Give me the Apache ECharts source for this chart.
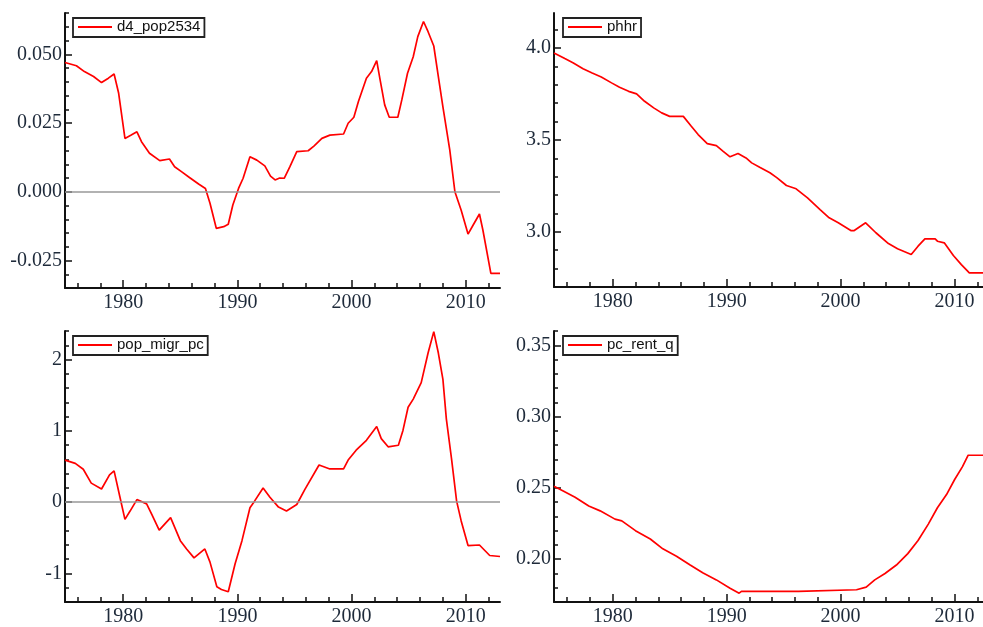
<!DOCTYPE html>
<html>
<head>
<meta charset="utf-8">
<script src="https://cdn.jsdelivr.net/npm/echarts@6/dist/echarts.min.js"></script>
<style>
html,body{margin:0;padding:0;background:#fff;}
#chart{width:983px;height:627px;}
</style>
</head>
<body>
<div id="chart"></div>
<script>
// ---- data ----
const seriesNames = ['d4_pop2534', 'phhr', 'pop_migr_pc', 'pc_rent_q'];

const d4Years = [1974.9,1975.9,1976.6,1977.4,1978.1,1978.7,1979.2,1979.6,1980.15,1980.7,1981.2,1981.6,1982.3,1983.2,1984.05,1984.5,1985.1,1985.8,1986.6,1987.2,1987.6,1988.15,1988.8,1989.2,1989.6,1990.1,1990.5,1991.1,1991.7,1992.4,1992.9,1993.3,1993.7,1994.1,1994.6,1995.2,1996.2,1996.7,1997.4,1998.1,1999.3,1999.7,2000.2,2000.6,2001.3,2001.75,2002.2,2002.5,2002.9,2003.3,2004.05,2004.4,2004.9,2005.4,2005.8,2006.3,2006.7,2007.2,2007.6,2008.0,2008.6,2009.05,2009.6,2010.2,2010.65,2011.2,2011.5,2012.2,2013.0];
const d4Values = [0.0470,0.0458,0.0437,0.0419,0.0397,0.0413,0.0428,0.0358,0.0194,0.0206,0.0218,0.0182,0.0140,0.0113,0.0119,0.0091,0.0073,0.0052,0.0028,0.0012,-0.0042,-0.0133,-0.0127,-0.0118,-0.0048,0.0012,0.0049,0.0127,0.0115,0.0094,0.0057,0.0043,0.0050,0.0049,0.0091,0.0146,0.0149,0.0166,0.0194,0.0206,0.0210,0.0249,0.0271,0.0328,0.0413,0.0437,0.0477,0.0407,0.0316,0.0271,0.0271,0.0334,0.0431,0.0491,0.0564,0.0619,0.0582,0.0530,0.0419,0.0309,0.0152,0.0000,-0.0067,-0.0154,-0.0121,-0.0081,-0.0139,-0.0297,-0.0297];

const phhrYears = [1974.85,1975.8,1976.55,1977.4,1978.2,1979.0,1979.9,1980.6,1981.4,1982.1,1982.8,1983.6,1984.3,1985.0,1986.2,1986.9,1987.5,1988.3,1989.1,1989.7,1990.3,1991.0,1991.7,1992.2,1992.9,1993.8,1994.4,1995.25,1996.1,1997.1,1998.2,1999.0,1999.8,2000.9,2001.2,2002.2,2003.1,2004.2,2005.0,2006.2,2006.8,2007.4,2008.3,2008.5,2009.1,2009.9,2010.6,2011.3,2012.5];
const phhrValues = [3.973,3.942,3.918,3.887,3.864,3.842,3.810,3.786,3.764,3.750,3.710,3.674,3.647,3.628,3.628,3.574,3.529,3.480,3.469,3.438,3.408,3.426,3.402,3.375,3.351,3.321,3.295,3.252,3.234,3.185,3.121,3.076,3.049,3.007,3.007,3.049,2.995,2.936,2.908,2.877,2.922,2.962,2.962,2.949,2.940,2.871,2.822,2.777,2.777];

const migrYears = [1974.9,1975.8,1976.5,1977.2,1978.1,1978.8,1979.2,1979.7,1980.15,1980.6,1981.2,1982.05,1982.5,1983.15,1984.15,1985.0,1985.55,1986.2,1987.15,1987.6,1988.2,1988.6,1989.2,1989.8,1990.4,1991.1,1991.5,1992.25,1992.85,1993.6,1994.3,1995.2,1995.9,1997.15,1998.1,1999.3,1999.7,2000.4,2001.3,2002.2,2002.6,2003.2,2004.1,2004.5,2004.95,2005.4,2006.1,2006.7,2007.2,2007.6,2008.0,2008.3,2008.75,2009.2,2009.6,2010.2,2011.2,2012.1,2013.0];
const migrValues = [0.59,0.544,0.461,0.267,0.184,0.382,0.438,0.08,-0.241,-0.125,0.036,-0.024,-0.172,-0.393,-0.217,-0.540,-0.656,-0.781,-0.656,-0.841,-1.187,-1.224,-1.256,-0.864,-0.540,-0.079,0.014,0.198,0.069,-0.069,-0.125,-0.033,0.175,0.521,0.466,0.466,0.590,0.729,0.867,1.061,0.891,0.776,0.798,1.006,1.330,1.445,1.676,2.091,2.391,2.091,1.722,1.168,0.614,0.014,-0.263,-0.609,-0.601,-0.748,-0.762];

const rentYears = [1974.85,1975.7,1976.7,1977.9,1978.9,1980.2,1980.8,1982.0,1983.3,1984.4,1985.6,1986.8,1987.9,1989.1,1990.3,1991.1,1991.3,1996.3,1996.4,2001.4,2001.5,2002.25,2003.0,2003.9,2004.9,2005.9,2006.8,2007.7,2008.5,2009.3,2010.0,2010.7,2011.2,2012.5];
const rentValues = [0.2511,0.2477,0.2435,0.2373,0.2339,0.2281,0.2269,0.2200,0.2142,0.2073,0.2021,0.1959,0.1905,0.1855,0.1797,0.1762,0.1774,0.1774,0.1786,0.1786,0.1797,0.1804,0.1855,0.1900,0.1959,0.2039,0.2131,0.2246,0.2361,0.2453,0.2557,0.2649,0.2729,0.2729];

// ---- tick labels ----
const xTickLabels = [1980, 1990, 2000, 2010];
const yTickLabels1 = [-0.025, 0.000, 0.025, 0.050];
const yTickLabels2 = [3.0, 3.5, 4.0];
const yTickLabels3 = [-1, 0, 1, 2];
const yTickLabels4 = [0.20, 0.25, 0.30, 0.35];

// ---- helpers ----
function zip(xs, ys) { return xs.map((x, i) => [x, ys[i]]); }
function steps(from, to, step, exclude) {
  const out = [];
  const n = Math.round((to - from) / step);
  for (let i = 0; i <= n; i++) {
    const v = +(from + i * step).toFixed(6);
    if (!exclude.some(e => Math.abs(e - v) < step / 100)) out.push(v);
  }
  return out;
}

const LABEL_COLOR = '#1e2a3a';
const AXIS_COLOR = '#111';
const SERIF = 'Liberation Serif';

const panels = [
  { grid: { left: 65, top: 13, width: 435, height: 275 }, xMin: 1974.9, xMax: 2013.0,
    yMin: -0.035, yMax: 0.065, yMajor: yTickLabels1, yStep: 0.005, yFmt: v => v.toFixed(3),
    name: seriesNames[0], data: zip(d4Years, d4Values), zero: true, legend: { left: 73, top: 18 } },
  { grid: { left: 554, top: 13, width: 429, height: 274 }, xMin: 1974.85, xMax: 2012.5,
    yMin: 2.7, yMax: 4.19, yMajor: yTickLabels2, yStep: 0.1, yFmt: v => v.toFixed(1),
    name: seriesNames[1], data: zip(phhrYears, phhrValues), zero: false, legend: { left: 563, top: 18 } },
  { grid: { left: 65, top: 331, width: 435, height: 274 }, xMin: 1974.9, xMax: 2013.0,
    yMin: -1.4, yMax: 2.4, yMajor: yTickLabels3, yStep: 0.2, yFmt: v => String(Math.round(v)),
    name: seriesNames[2], data: zip(migrYears, migrValues), zero: true, legend: { left: 73, top: 336 } },
  { grid: { left: 554, top: 331, width: 429, height: 274 }, xMin: 1974.85, xMax: 2012.5,
    yMin: 0.17, yMax: 0.36, yMajor: yTickLabels4, yStep: 0.01, yFmt: v => v.toFixed(2),
    name: seriesNames[3], data: zip(rentYears, rentValues), zero: false, legend: { left: 563, top: 336 } }
];

const grid = [], xAxis = [], yAxis = [], series = [], legend = [];

panels.forEach((p, i) => {
  grid.push(Object.assign({ containLabel: false }, p.grid));
  const xMinor = steps(1976, 2012, 2, xTickLabels);
  const yStart = Math.ceil(p.yMin / p.yStep - 1e-6) * p.yStep;
  const yMinor = steps(yStart, p.yMax, p.yStep, p.yMajor);

  xAxis.push({
    type: 'value', gridIndex: i, min: p.xMin, max: p.xMax, position: 'bottom',
    axisLine: { show: true, onZero: false, lineStyle: { color: AXIS_COLOR, width: 2 } },
    axisTick: { show: true, inside: true, length: 8, customValues: xTickLabels, lineStyle: { color: AXIS_COLOR, width: 1.5 } },
    axisLabel: { show: true, customValues: xTickLabels, margin: 5, fontSize: 20, fontFamily: SERIF, color: LABEL_COLOR,
      formatter: v => String(Math.round(v)) },
    splitLine: { show: false }
  });
  xAxis.push({
    type: 'value', gridIndex: i, min: p.xMin, max: p.xMax, position: 'bottom',
    axisLine: { show: false, onZero: false },
    axisTick: { show: true, inside: true, length: 5, customValues: xMinor, lineStyle: { color: AXIS_COLOR, width: 1.5 } },
    axisLabel: { show: false },
    splitLine: { show: false }
  });
  yAxis.push({
    type: 'value', gridIndex: i, min: p.yMin, max: p.yMax, position: 'left',
    axisLine: { show: true, onZero: false, lineStyle: { color: AXIS_COLOR, width: 2 } },
    axisTick: { show: true, inside: true, length: 7, customValues: p.yMajor, lineStyle: { color: AXIS_COLOR, width: 1.5 } },
    axisLabel: { show: true, customValues: p.yMajor, margin: 3, fontSize: 20, fontFamily: SERIF, color: LABEL_COLOR,
      formatter: p.yFmt },
    splitLine: { show: false }
  });
  yAxis.push({
    type: 'value', gridIndex: i, min: p.yMin, max: p.yMax, position: 'left',
    axisLine: { show: false, onZero: false },
    axisTick: { show: true, inside: true, length: 4, customValues: yMinor, lineStyle: { color: AXIS_COLOR, width: 1.5 } },
    axisLabel: { show: false },
    splitLine: { show: false }
  });

  const s = {
    name: p.name, type: 'line', xAxisIndex: i * 2, yAxisIndex: i * 2,
    data: p.data, showSymbol: false, symbol: 'none', clip: true, z: 3,
    lineStyle: { color: '#ff0000', width: 1.7 }, itemStyle: { color: '#ff0000' },
    emphasis: { disabled: true }
  };
  if (p.zero) {
    s.markLine = {
      silent: true, symbol: ['none', 'none'], animation: false,
      label: { show: false },
      lineStyle: { color: '#999', width: 1.5, type: 'solid' },
      data: [{ yAxis: 0 }]
    };
  }
  series.push(s);

  legend.push({
    left: p.legend.left, top: p.legend.top, data: [p.name], orient: 'horizontal',
    icon: 'rect', itemWidth: 34, itemHeight: 2, itemGap: 0,
    padding: [1, 4, 2, 5], borderColor: '#222', borderWidth: 1.8, borderRadius: 0,
    backgroundColor: '#fff', selectedMode: false,
    textStyle: { fontFamily: 'Liberation Sans', fontSize: 15, color: '#111', lineHeight: 16 }
  });
});

const chart = echarts.init(document.getElementById('chart'), null, { renderer: 'canvas' });
chart.setOption({
  animation: false,
  backgroundColor: '#fff',
  textStyle: { fontFamily: SERIF },
  grid, xAxis, yAxis, series, legend
});
</script>
</body>
</html>
